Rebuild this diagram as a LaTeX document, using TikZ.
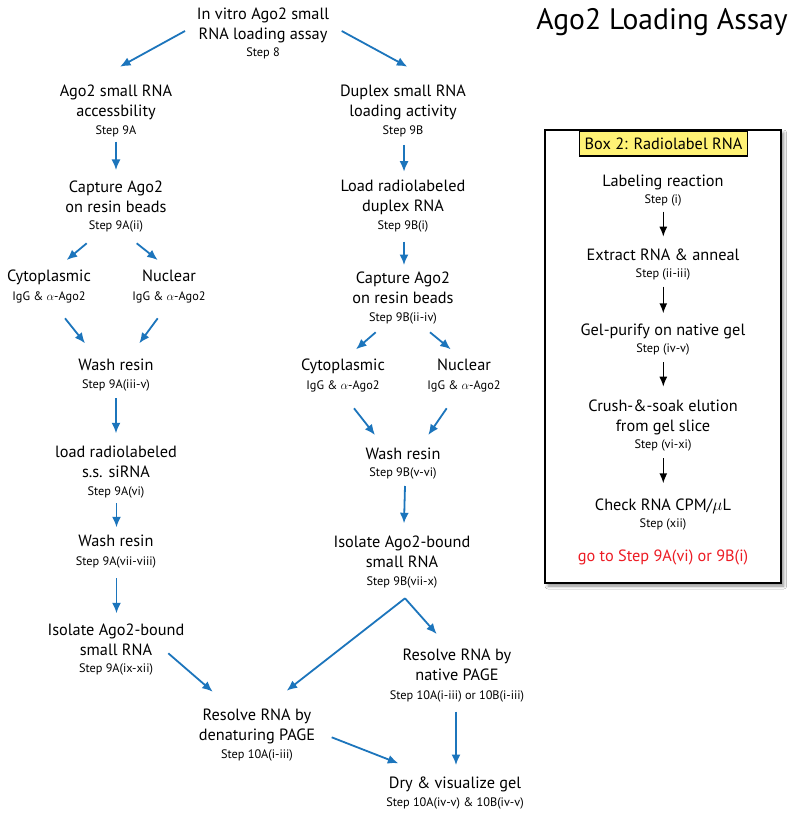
\documentclass[tikz,border=0pt]{standalone}
\usepackage{fontspec}
\setmainfont{PT Sans}
\usetikzlibrary{arrows.meta,shadows.blur}
\definecolor{arrblue}{RGB}{28,117,188}
\definecolor{boxyellow}{RGB}{255,242,117}
\definecolor{gored}{RGB}{237,28,36}
\newcommand\sstep[1]{{\fontsize{12.3}{20}\selectfont #1}}
\newcommand\fs{\rule{0pt}{13pt}}
\begin{document}
\begin{tikzpicture}[x=1pt,y=-1pt,
  lbl/.style={anchor=north, inner sep=0pt, align=center, font=\fontsize{16.3}{20}\selectfont},
  arr/.style={draw=arrblue, line width=1.8pt, -{Latex[length=10.5pt,width=9pt]}},
  barr/.style={draw=black, line width=1.5pt, -{Latex[length=10pt,width=8pt]}}]
\useasboundingbox (0,0) rectangle (800,818);
\fill[white] (0,0) rectangle (800,818);

% title
\node[anchor=base, inner sep=0pt, font=\fontsize{29.6}{34}\selectfont] (title) at (662,30) {Ago2 Loading Assay};

% main flow
\node[lbl] (top) at (263,6) {\fs In vitro Ago2 small\\RNA loading assay\\[-2.5pt]\sstep{Step 8}};
\node[lbl] (A) at (116,83.7) {\fs Ago2 small RNA\\accessbility\\[-2.5pt]\sstep{Step 9A}};
\node[lbl] (B) at (403,83.7) {\fs Duplex small RNA\\loading activity\\[-2.5pt]\sstep{Step 9B}};
\node[lbl] (A1) at (116,179) {\fs Capture Ago2\\on resin beads\\[-2.5pt]\sstep{Step 9A(ii)}};
\node[lbl] (B1) at (403,178.7) {\fs Load radiolabeled\\duplex RNA\\[-2.5pt]\sstep{Step 9B(i)}};
\node[lbl] (CytoA) at (49,268.5) {\fs Cytoplasmic\\[-1.5pt]\sstep{IgG \& $\alpha$-Ago2}};
\node[lbl] (NucA) at (169,268.5) {\fs Nuclear\\[-1.5pt]\sstep{IgG \& $\alpha$-Ago2}};
\node[lbl] (B2) at (403,270.5) {\fs Capture Ago2\\on resin beads\\[-2.5pt]\sstep{Step 9B(ii-iv)}};
\node[lbl] (WashA) at (116,357) {\fs Wash resin\\[-1.5pt]\sstep{Step 9A(iii-v)}};
\node[lbl] (CytoB) at (343,357.7) {\fs Cytoplasmic\\[-1.5pt]\sstep{IgG \& $\alpha$-Ago2}};
\node[lbl] (NucB) at (464,357.7) {\fs Nuclear\\[-1.5pt]\sstep{IgG \& $\alpha$-Ago2}};
\node[lbl] (loadA) at (116,444.7) {\fs load radiolabeled\\s.s. siRNA\\[-2.5pt]\sstep{Step 9A(vi)}};
\node[lbl] (WashB) at (403,446) {\fs Wash resin\\[-2.5pt]\sstep{Step 9B(v-vi)}};
\node[lbl] (Wash2A) at (116,533.7) {\fs Wash resin\\[-1.5pt]\sstep{Step 9A(vii-viii)}};
\node[lbl] (IsoB) at (402,534.3) {\fs Isolate Ago2-bound\\small RNA\\[-2.5pt]\sstep{Step 9B(vii-x)}};
\node[lbl] (IsoA) at (116,622) {\fs Isolate Ago2-bound\\small RNA\\[-2.5pt]\sstep{Step 9A(ix-xii)}};
\node[lbl] (ResNat) at (457,647.7) {\fs Resolve RNA by\\native PAGE\\[-1.5pt]\sstep{Step 10A(i-iii) or 10B(i-iii)}};
\node[lbl] (ResDen) at (257,707) {\fs Resolve RNA by\\denaturing PAGE\\[-1.5pt]\sstep{Step 10A(i-iii)}};
\node[lbl] (Dry) at (455,775) {\fs Dry \& visualize gel\\[-1.5pt]\sstep{Step 10A(iv-v) \& 10B(iv-v)}};

% connectors
\draw[arr] ([shift={(-78,25)}]top.north) -- ([shift={(4,-17)}]A.north);
\draw[arr] ([shift={(78.7,25)}]top.north) -- ([shift={(4.3,-17)}]B.north);
\draw[arr] ([shift={(0,58)}]A.north) -- ([shift={(0,-9)}]A1.north);
\draw[arr] ([shift={(1,61.3)}]B.north) -- ([shift={(1,-7)}]B1.north);
\draw[arr] ([shift={(-29.3,64.3)}]A1.north) -- ([shift={(17.7,-8.5)}]CytoA.north);
\draw[arr] ([shift={(20.7,64.3)}]A1.north) -- ([shift={(-11.3,-8.5)}]NucA.north);
\draw[arr] ([shift={(16,49.8)}]CytoA.north) -- ([shift={(-31,-13.7)}]WashA.north);
\draw[arr] ([shift={(-11.3,49.8)}]NucA.north) -- ([shift={(23.3,-13.7)}]WashA.north);
\draw[arr] ([shift={(0,41.3)}]WashA.north) -- ([shift={(0,-11.4)}]loadA.north);
\draw[arr] ([shift={(0.5,58.6)}]loadA.north) -- ([shift={(0.5,-6.4)}]Wash2A.north);
\draw[arr] ([shift={(0.5,44.6)}]Wash2A.north) -- ([shift={(0.5,-8.7)}]IsoA.north);
\draw[arr] ([shift={(52.3,31.3)}]IsoA.north) -- ([shift={(-44.3,-15.3)}]ResDen.north);
\draw[arr] ([shift={(1,63)}]B1.north) -- ([shift={(1,-5.5)}]B2.north);
\draw[arr] ([shift={(-27.3,61.8)}]B2.north) -- ([shift={(13,-8.4)}]CytoB.north);
\draw[arr] ([shift={(27,61.8)}]B2.north) -- ([shift={(-13.3,-8.4)}]NucB.north);
\draw[arr] ([shift={(11,50.6)}]CytoB.north) -- ([shift={(-28,-11)}]WashB.north);
\draw[arr] ([shift={(-17.3,50.6)}]NucB.north) -- ([shift={(25.3,-11)}]WashB.north);
\draw[arr] ([shift={(2,40)}]WashB.north) -- ([shift={(2,-11)}]IsoB.north);
\draw[arr] ([shift={(3,64)}]IsoB.north) -- ([shift={(29.7,-16.3)}]ResDen.north);
\draw[arr] ([shift={(3,64)}]IsoB.north) -- ([shift={(-20.3,-13.7)}]ResNat.north);
\draw[arr] ([shift={(74.7,30.3)}]ResDen.north) -- ([shift={(-56.7,-11.7)}]Dry.north);
\draw[arr] ([shift={(-1,64)}]ResNat.north) -- ([shift={(1,-10)}]Dry.north);

% Box 2
\node[draw=black, line width=1.6pt, fill=white, minimum width=235.7pt, minimum height=453pt, inner sep=0pt,
  blur shadow={shadow xshift=3pt, shadow yshift=-3pt, shadow blur radius=3pt, shadow opacity=45}] (box2) at (662.85,356.5) {};
\node[draw=black, line width=1.4pt, fill=boxyellow, minimum width=168.4pt, minimum height=24.3pt, inner sep=0pt,
  font=\fontsize{16.3}{20}\selectfont] (boxlbl) at (663.5,143.8) {Box 2: Radiolabel RNA};
\node[lbl] (L1) at (663,173.7) {\fs Labeling reaction\\[-3pt]\sstep{Step (i)}};
\node[lbl] (L2) at (663,247) {\fs Extract RNA \& anneal\\[-3pt]\sstep{Step (ii-iii)}};
\node[lbl] (L3) at (663,322) {\fs Gel-purify on native gel\\[-3pt]\sstep{Step (iv-v)}};
\node[lbl] (L4) at (663,398.7) {\fs Crush-\&-soak elution\\from gel slice\\[-3pt]\sstep{Step (vi-xi)}};
\node[lbl] (L5) at (663,497) {\fs Check RNA CPM/$\mu$L\\[-3pt]\sstep{Step (xii)}};
\node[anchor=base, inner sep=0pt, font=\fontsize{16.3}{20}\selectfont, text=gored] (goto) at (663,561.7) {go to Step 9A(vi) or 9B(i)};
\draw[barr] ([shift={(0.3,38)}]L1.north) -- ([shift={(0.3,-10.3)}]L2.north);
\draw[barr] ([shift={(0.3,39.7)}]L2.north) -- ([shift={(0.3,-8.7)}]L3.north);
\draw[barr] ([shift={(0.3,40)}]L3.north) -- ([shift={(0.3,-12)}]L4.north);
\draw[barr] ([shift={(0.3,59.6)}]L4.north) -- ([shift={(0.3,-13.7)}]L5.north);
\end{tikzpicture}
\end{document}
